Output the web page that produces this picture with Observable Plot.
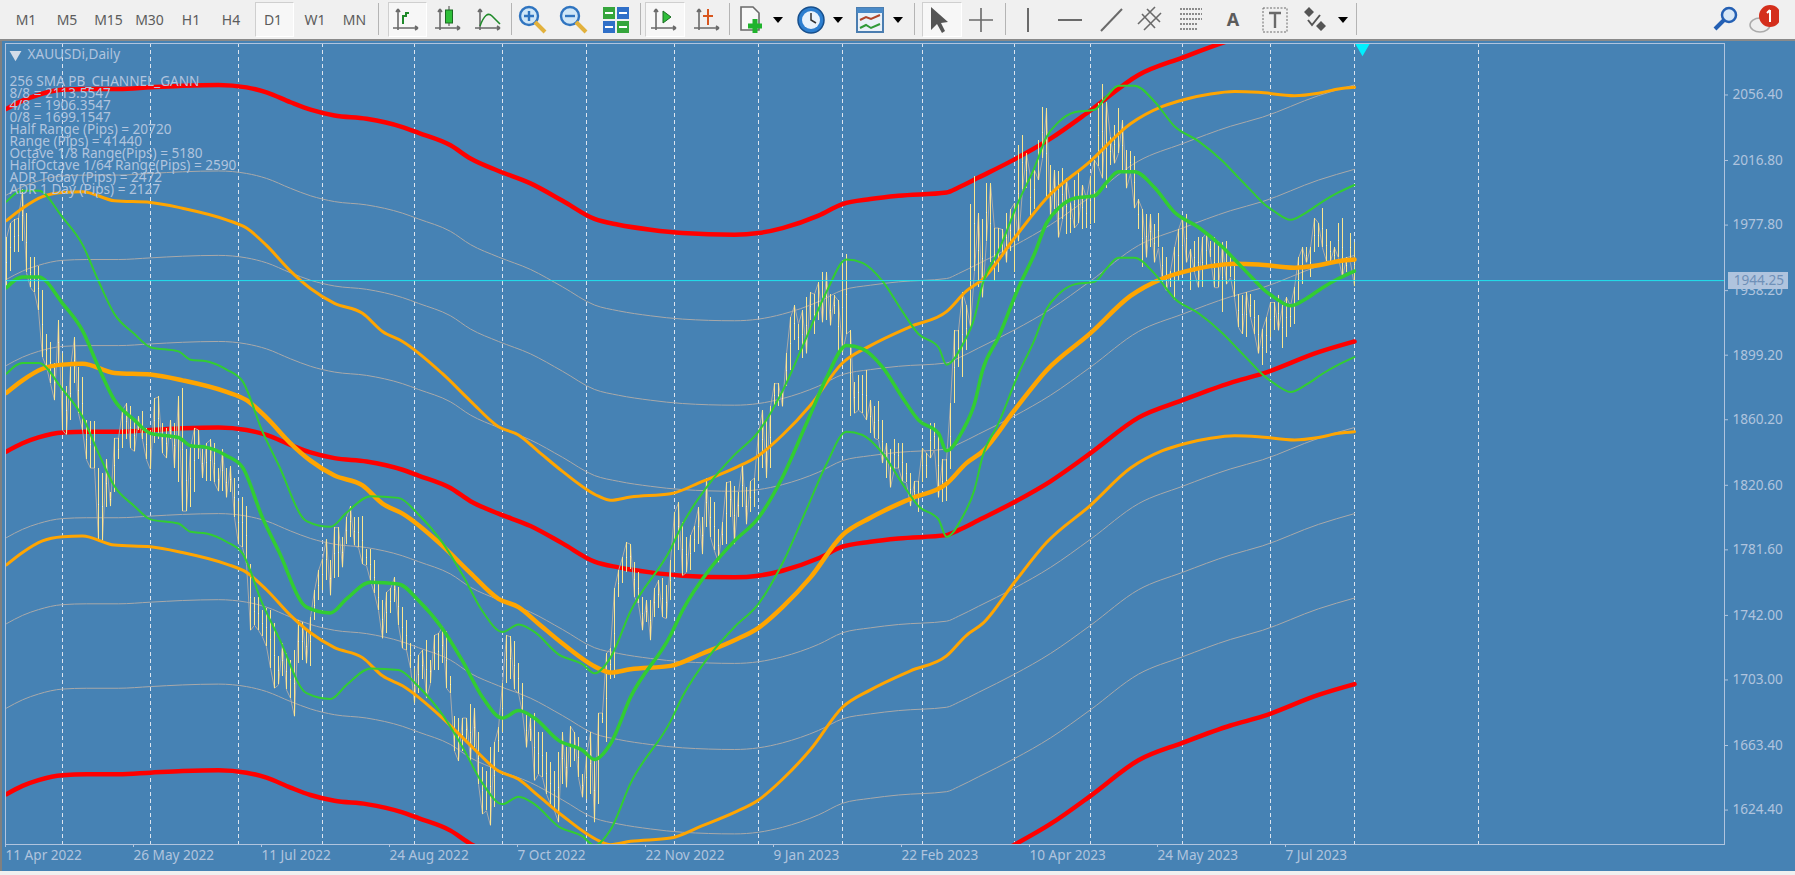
<!DOCTYPE html>
<html><head><meta charset="utf-8">
<script src="https://cdn.jsdelivr.net/npm/d3@7"></script>
<script src="https://cdn.jsdelivr.net/npm/@observablehq/plot@0.6"></script>
<style>
html,body{margin:0;padding:0;background:#f0f0f0;width:1795px;height:875px;overflow:hidden}
#bar{position:absolute;left:0;top:0;width:1795px;height:39px;background:#f0f0f0;border-bottom:2px solid #8a8a8a;font:14px "Noto Sans",sans-serif;color:#5c5c5c}
#bar span.t{position:absolute;top:10px;transform:translateX(-50%)}
#bar div.b{position:absolute;top:2px;height:33px;background:#f7f7f7;border:1px solid #cfcfcf;border-right-color:#fff;border-bottom-color:#fff}
#bar div.s{position:absolute;top:3px;height:32px;width:1px;background:#b4b4b4}
#bar svg{position:absolute;top:4px}
#chart{position:absolute;left:0;top:41px;width:1795px;height:830px;border-left:2px solid #808080;box-sizing:border-box}
#chart svg{display:block}
</style></head><body>
<div id="bar"></div><div id="chart"></div>
<script>
const periods=["M1","M5","M15","M30","H1","H4","D1","W1","MN"];
const indicatorText=["256 SMA PB_CHANNEL_GANN","8/8 = 2113.5547","4/8 = 1906.3547","0/8 = 1699.1547","Half Range (Pips) = 20720","Range (Pips) = 41440","Octave 1/8 Range(Pips) = 5180","HalfOctave 1/64 Range(Pips) = 2590","ADR Today (Pips) = 2472","ADR 1 Day (Pips) = 2127"];
const priceTicks=[2056.40,2016.80,1977.80,1938.20,1899.20,1860.20,1820.60,1781.60,1742.00,1703.00,1663.40,1624.40];
const dateBars=[0,32,64,96,128,160,192,224,256,288,320];
const dateLabels=["11 Apr 2022","26 May 2022","11 Jul 2022","24 Aug 2022","7 Oct 2022","22 Nov 2022","9 Jan 2023","22 Feb 2023","10 Apr 2023","24 May 2023","7 Jul 2023"];
const monthBars=[14,36,58,79,102,124,145,167,188,209,229,252,271,294,316,337,368];
const bid=1944.25;

const highs=[1970,1979,1981,1982,1999,1985,1958,1958,1953,1938,
1912,1907,1894,1920,1900,1880,1892,1910,1892,1886,
1860,1859,1859,1831,1828,1836,1816,1849,1849,1866,
1870,1868,1860,1862,1865,1855,1854,1873,1874,1858,
1855,1860,1858,1874,1879,1842,1843,1855,1854,1842,
1846,1848,1846,1831,1842,1831,1832,1825,1811,1813,
1808,1773,1753,1753,1745,1746,1745,1737,1717,1725,
1719,1715,1721,1739,1738,1733,1741,1757,1769,1776,
1788,1775,1795,1795,1789,1801,1808,1801,1801,1802,
1782,1782,1775,1761,1751,1756,1758,1765,1759,1747,
1739,1725,1710,1718,1721,1727,1715,1730,1731,1735,
1732,1705,1681,1680,1680,1680,1688,1686,1671,1650,
1648,1662,1665,1674,1701,1730,1729,1726,1713,1701,
1683,1680,1683,1671,1671,1659,1653,1648,1659,1671,
1662,1675,1671,1668,1646,1657,1671,1655,1683,1683,
1719,1722,1758,1769,1777,1786,1785,1774,1768,1753,
1751,1751,1758,1763,1764,1760,1775,1804,1810,1798,
1789,1790,1796,1807,1801,1825,1813,1810,1794,1798,
1822,1823,1820,1816,1834,1819,1823,1825,1852,1866,
1860,1868,1882,1882,1878,1900,1922,1929,1918,1926,
1934,1937,1936,1943,1949,1949,1936,1935,1932,1955,
1960,1914,1883,1887,1887,1890,1872,1868,1871,1860,
1846,1842,1848,1846,1846,1834,1828,1823,1823,1843,
1840,1858,1858,1852,1836,1836,1870,1914,1914,1937,
1929,1990,2007,1985,1981,2003,2003,1976,1976,1975,
1985,1987,1991,2026,2032,2021,2007,2011,2029,2049,
2048,2014,2011,2010,2012,2006,1991,2005,2010,2002,
1994,2007,2017,2051,2063,2052,2031,2038,2048,2041,
2023,2022,2019,1993,1987,1984,1984,1978,1985,1964,
1958,1950,1964,1975,1982,1984,1963,1968,1970,1970,
1973,1968,1970,1968,1967,1968,1958,1956,1936,1935,
1937,1936,1932,1923,1915,1922,1931,1931,1935,1929,
1934,1929,1940,1958,1964,1964,1964,1982,1979,1988,
1975,1968,1964,1979,1982,1958,1973,1967];
const lows=[1940,1950,1961,1961,1968,1949,1940,1937,1926,1898,
1892,1882,1872,1894,1854,1851,1860,1882,1864,1854,
1836,1831,1831,1787,1787,1807,1808,1816,1836,1843,
1848,1843,1841,1854,1848,1836,1830,1846,1848,1840,
1837,1848,1831,1822,1805,1805,1807,1816,1836,1825,
1823,1823,1822,1817,1817,1813,1816,1801,1785,1783,
1773,1733,1736,1733,1729,1723,1710,1698,1700,1705,
1697,1692,1681,1713,1715,1713,1711,1739,1751,1757,
1763,1754,1764,1765,1771,1785,1789,1784,1783,1773,
1772,1763,1755,1745,1728,1731,1743,1750,1736,1722,
1721,1710,1689,1695,1703,1692,1701,1709,1709,1713,
1698,1695,1660,1654,1660,1666,1654,1662,1640,1622,
1624,1615,1626,1659,1671,1701,1703,1697,1695,1683,
1662,1666,1642,1646,1644,1634,1628,1624,1617,1640,
1638,1650,1654,1644,1632,1631,1634,1617,1628,1677,
1665,1703,1704,1753,1761,1768,1770,1753,1749,1733,
1738,1727,1741,1746,1741,1740,1751,1769,1781,1766,
1768,1769,1780,1785,1779,1795,1789,1781,1774,1784,
1785,1801,1785,1801,1807,1797,1804,1807,1823,1831,
1825,1831,1868,1868,1868,1880,1890,1908,1902,1897,
1900,1920,1912,1920,1919,1920,1917,1924,1901,1901,
1912,1862,1864,1866,1864,1860,1852,1849,1848,1834,
1825,1819,1831,1831,1823,1822,1808,1811,1804,1822,
1825,1837,1842,1813,1810,1811,1830,1870,1892,1886,
1902,1916,1950,1940,1934,1968,1955,1944,1949,1958,
1955,1962,1949,1968,1999,2000,1982,1987,2005,2018,
1994,1982,1987,1970,1981,1972,1973,1976,1979,1975,
1976,1978,1979,2013,2006,2000,2014,2015,2021,2011,
2000,2009,1988,1975,1952,1958,1964,1955,1964,1943,
1938,1940,1932,1944,1949,1955,1938,1949,1940,1940,
1952,1958,1940,1940,1925,1942,1946,1934,1916,1912,
1910,1922,1912,1900,1893,1900,1910,1914,1914,1903,
1910,1916,1918,1932,1942,1955,1946,1961,1964,1964,
1956,1956,1955,1958,1946,1949,1955,1941];
// which end of each bar the thin grey price line passes through
const lineEnd="HHHHHLLLLLLLLHLLHHLLLLLLLHLHHHHLLHLLLHHLLHLHLLHHHLHHLLHLHLLLLLLLLLLLLHLLLHHLHHHHHLHHLHHLLLLLLLLHHHLLLLLHHLLHHHLLLLHHLHLLLLHHHHHLLLLHLLLLLLLHLHHLLHHLHHHHHHHHHLLLHLHHLLHHHLLHHHLHLLLHHHLHHLHHHHLHHHLHHHHHLHHHLHLHHLLHLLLLHLLLHLLLLLLHHHHLLLHHHHHHHLLHLLHHHHLHHLLHHHLLHLHLLHHLLHHHHLLHHLLHLLLHHLHLLLLHHHHLHLLHHLLLHLLLLLHLLLHHHHLHHHHHHLHHHLLLHLLHL";

const redBars=[0,4,8,14,20,28,36,44,53,60,65,71,76,82,90,99,103,111,116,123,131,139,147,153,161,169,182,188,194,203,209,216,223,235,238,243,252,261,271,283,294,306,314,328,337];
const redTop=[2048,2053,2056.5,2059.5,2060,2060,2061,2062,2062.5,2061,2058,2052,2047.5,2044,2042,2037,2033.5,2026,2018,2010.5,2003,1992.5,1981.5,1978,1975,1973,1972,1973,1976,1983.5,1990.5,1993.5,1995.5,1997.5,2000.5,2006.5,2017.5,2030,2047,2068.5,2079,2089.5,2095,2108,2114.5];
const redMid=[1841,1846,1849.5,1852.5,1853,1853,1854,1855,1855.5,1854,1851,1845,1840.5,1837,1835,1830,1826.5,1819,1811,1803.5,1796,1785.5,1774.5,1771,1768,1766,1765,1766,1769,1776.5,1783.5,1786.5,1788.5,1790.5,1793.5,1799.5,1810.5,1823,1840,1861.5,1872,1882.5,1888,1901,1907.5];
const redBot=[1634,1639,1642.5,1645.5,1646,1646,1647,1648,1648.5,1647,1644,1638,1633.5,1630,1628,1623,1619.5,1612,1604,1596.5,1589,1578.5,1567.5,1564,1561,1559,1558,1559,1562,1569.5,1576.5,1579.5,1581.5,1583.5,1586.5,1592.5,1603.5,1616,1633,1654.5,1665,1675.5,1681,1694,1700.5];
const greyA=[1996,2001,2004.5,2007.5,2008,2008,2009,2010,2010.5,2009,2006,2000,1995.5,1992,1990,1985,1981.5,1974,1966,1958.5,1951,1940.5,1929.5,1926,1923,1921,1920,1921,1924,1931.5,1938.5,1941.5,1943.5,1945.5,1948.5,1954.5,1965.5,1978,1995,2016.5,2027,2037.5,2043,2056,2062.5];
const greyB=[1945,1950,1953.5,1956.5,1957,1957,1958,1959,1959.5,1958,1955,1949,1944.5,1941,1939,1934,1930.5,1923,1915,1907.5,1900,1889.5,1878.5,1875,1872,1870,1869,1870,1873,1880.5,1887.5,1890.5,1892.5,1894.5,1897.5,1903.5,1914.5,1927,1944,1965.5,1976,1986.5,1992,2005,2011.5];
const greyC=[1893,1898,1901.5,1904.5,1905,1905,1906,1907,1907.5,1906,1903,1897,1892.5,1889,1887,1882,1878.5,1871,1863,1855.5,1848,1837.5,1826.5,1823,1820,1818,1817,1818,1821,1828.5,1835.5,1838.5,1840.5,1842.5,1845.5,1851.5,1862.5,1875,1892,1913.5,1924,1934.5,1940,1953,1959.5];
const greyD=[1789,1794,1797.5,1800.5,1801,1801,1802,1803,1803.5,1802,1799,1793,1788.5,1785,1783,1778,1774.5,1767,1759,1751.5,1744,1733.5,1722.5,1719,1716,1714,1713,1714,1717,1724.5,1731.5,1734.5,1736.5,1738.5,1741.5,1747.5,1758.5,1771,1788,1809.5,1820,1830.5,1836,1849,1855.5];
const greyE=[1737,1742,1745.5,1748.5,1749,1749,1750,1751,1751.5,1750,1747,1741,1736.5,1733,1731,1726,1722.5,1715,1707,1699.5,1692,1681.5,1670.5,1667,1664,1662,1661,1662,1665,1672.5,1679.5,1682.5,1684.5,1686.5,1689.5,1695.5,1706.5,1719,1736,1757.5,1768,1778.5,1784,1797,1803.5];
const greyF=[1686,1691,1694.5,1697.5,1698,1698,1699,1700,1700.5,1699,1696,1690,1685.5,1682,1680,1675,1671.5,1664,1656,1648.5,1641,1630.5,1619.5,1616,1613,1611,1610,1611,1614,1621.5,1628.5,1631.5,1633.5,1635.5,1638.5,1644.5,1655.5,1668,1685,1706.5,1717,1727.5,1733,1746,1752.5];

const orangeBars=[0,4,9,14,19,27,36,44,55,60,65,71,76,82,89,94,99,109,116,123,128,133,139,148,151,156,166,174,182,188,194,201,209,216,226,235,240,244,252,260,271,281,289,295,301,307,313,322,328,333,337];
const orangeTop=[1980.5,1988,1995,1997.5,1998,1992.5,1991.5,1988,1981,1976,1965.5,1950,1939.5,1930.5,1924.5,1913.5,1907.5,1888,1871.5,1856,1851,1841,1829,1814,1811.5,1813.5,1815.5,1823,1831,1838.5,1851,1869,1894.5,1905,1916.5,1925.5,1938,1945,1970,1994,2016.5,2039,2049.5,2054,2057,2058.5,2058,2056,2057.5,2060,2061];
const orangeMid=[1876.5,1884,1891,1893.5,1894,1888.5,1887.5,1884,1877,1872,1861.5,1846,1835.5,1826.5,1820.5,1809.5,1803.5,1784,1767.5,1752,1747,1737,1725,1710,1707.5,1709.5,1711.5,1719,1727,1734.5,1747,1765,1790.5,1801,1812.5,1821.5,1834,1841,1866,1890,1912.5,1935,1945.5,1950,1953,1954.5,1954,1952,1953.5,1956,1957];
const orangeBot=[1772.5,1780,1787,1789.5,1790,1784.5,1783.5,1780,1773,1768,1757.5,1742,1731.5,1722.5,1716.5,1705.5,1699.5,1680,1663.5,1648,1643,1633,1621,1606,1603.5,1605.5,1607.5,1615,1623,1630.5,1643,1661,1686.5,1697,1708.5,1717.5,1730,1737,1762,1786,1808.5,1831,1841.5,1846,1849,1850.5,1850,1848,1849.5,1852,1853];

const greenBars=[0,4,8,14,19,23,27,32,36,43,46,50,55,59,64,68,75,81,85,91,98,103,109,114,119,124,128,132,138,144,147,151,156,166,169,176,182,188,194,200,205,210,214,219,224,228,233,235,239,242,244,248,253,257,260,263,267,272,275,278,282,287,292,298,304,308,312,314,317,321,325,329,333,337];
const greenTop=[1992,1998.5,1998.5,1982.5,1966,1944,1924,1912,1904,1901.5,1896.5,1895.5,1890.5,1883.5,1853,1833,1799,1795.5,1804,1814,1813,1803,1786,1766.5,1744.5,1732,1736.5,1732,1718.5,1712.5,1707,1716.5,1744.5,1782,1797,1822.5,1839,1853,1877.5,1910,1937.5,1957,1955,1944,1925.5,1912,1904,1893.5,1905.5,1922,1942,1962,1992,2012.5,2031,2040,2046,2047.5,2055.5,2062,2062,2052.5,2037.5,2028.5,2016.5,2006.5,1996.5,1991.5,1986,1981,1985.5,1992,1997.5,2002];
const greenMid=[1940,1946.5,1946.5,1930.5,1914,1892,1872,1860,1852,1849.5,1844.5,1843.5,1838.5,1831.5,1801,1781,1747,1743.5,1752,1762,1761,1751,1734,1714.5,1692.5,1680,1684.5,1680,1666.5,1660.5,1655,1664.5,1692.5,1730,1745,1770.5,1787,1801,1825.5,1858,1885.5,1905,1903,1892,1873.5,1860,1852,1841.5,1853.5,1870,1890,1910,1940,1960.5,1979,1988,1994,1995.5,2003.5,2010,2010,2000.5,1985.5,1976.5,1964.5,1954.5,1944.5,1939.5,1934,1929,1933.5,1940,1945.5,1950];
const greenBot=[1888,1894.5,1894.5,1878.5,1862,1840,1820,1808,1800,1797.5,1792.5,1791.5,1786.5,1779.5,1749,1729,1695,1691.5,1700,1710,1709,1699,1682,1662.5,1640.5,1628,1632.5,1628,1614.5,1608.5,1603,1612.5,1640.5,1678,1693,1718.5,1735,1749,1773.5,1806,1833.5,1853,1851,1840,1821.5,1808,1800,1789.5,1801.5,1818,1838,1858,1888,1908.5,1927,1936,1942,1943.5,1951.5,1958,1958,1948.5,1933.5,1924.5,1912.5,1902.5,1892.5,1887.5,1882,1877,1881.5,1888,1893.5,1898];

const AXIS="#b0c4de", BLUE="#4682b4", RED="#ff0000", ORANGE="#ffa500", GREEN="#32cd32", GREY="#a9a9a9", BAR="#fbe78f";
const barIdx=highs.map((_,i)=>i);
const curve=(bars,vals,stroke,strokeWidth)=>Plot.line(bars,{x:d=>d,y:(_,i)=>vals[i],stroke,strokeWidth,clip:true,curve:"monotone-x",strokeLinejoin:"round"});

const chart=Plot.plot({
  width:1793,height:830,marginLeft:3,marginRight:71,marginTop:2,marginBottom:27,
  x:{type:"linear",domain:[-0.25,429.5],axis:null},
  y:{type:"linear",domain:[1603.6,2087.5],axis:null},
  style:{background:BLUE,color:AXIS,fontFamily:"'Noto Sans',sans-serif",fontSize:"13.6px"},
  marks:[
    Plot.ruleX(monthBars,{x:d=>d,stroke:"#dbe4ef",strokeWidth:1,strokeDasharray:"4,3"}),
    curve(redBars,redTop,RED,4.5),curve(redBars,redMid,RED,4.5),curve(redBars,redBot,RED,4.5),
    curve(redBars,greyA,GREY,1),curve(redBars,greyB,GREY,1),curve(redBars,greyC,GREY,1),
    curve(redBars,greyD,GREY,1),curve(redBars,greyE,GREY,1),curve(redBars,greyF,GREY,1),
    Plot.line(barIdx,{x:d=>d,y:i=>lineEnd[i]==="H"?highs[i]:lows[i],stroke:GREY,strokeWidth:1}),
    Plot.ruleX(barIdx,{x:d=>d,y1:i=>lows[i],y2:i=>highs[i],stroke:BAR,strokeWidth:1,shapeRendering:"crispEdges"}),
    Plot.ruleY(barIdx,{y:i=>(highs[i]+lows[i])/2,x1:i=>i,x2:i=>i+0.3,stroke:"#fff6c8",strokeWidth:1,shapeRendering:"crispEdges"}),
    curve(orangeBars,orangeTop,ORANGE,3),curve(orangeBars,orangeMid,ORANGE,4.5),curve(orangeBars,orangeBot,ORANGE,3),
    curve(greenBars,greenTop,GREEN,2),curve(greenBars,greenMid,GREEN,3.5),curve(greenBars,greenBot,GREEN,2),
    Plot.ruleY([bid],{y:d=>d,stroke:"#20e4ee",strokeWidth:1,clip:true}),
    Plot.dot([339],{x:d=>d,frameAnchor:"top",dy:4,r:5.6,symbol:"triangle",rotate:180,fill:"#00f0ff",stroke:"none"}),
    Plot.frame({stroke:AXIS,strokeWidth:1}),
    Plot.axisY(priceTicks,{anchor:"right",tickSize:3,tickPadding:5,tickFormat:d=>d.toFixed(2),label:null,stroke:AXIS,fill:AXIS}),
    Plot.axisX(dateBars,{anchor:"bottom",tickSize:3,tickPadding:3,textAnchor:"start",dx:-1,tickFormat:d=>dateLabels[dateBars.indexOf(d)],label:null,stroke:AXIS,fill:AXIS}),
    Plot.ruleY([bid],{y:d=>d,x1:430.5,x2:445.5,stroke:"#b0c4de",strokeWidth:17}),
    Plot.text([bid],{y:d=>d,x:431.8,text:d=>d.toFixed(2),textAnchor:"start",fill:"#6f90b8"}),
    Plot.dot(["▼"],{frameAnchor:"top-left",dx:10,dy:11,r:4.4,symbol:"triangle",rotate:180,fill:"#d3dce8",stroke:"none"}),
    Plot.text(["XAUUSDi,Daily"],{frameAnchor:"top-left",dx:22,dy:6,lineAnchor:"top",textAnchor:"start",fill:AXIS}),
    Plot.text([indicatorText.join("\n")],{frameAnchor:"top-left",dx:4,dy:34,lineAnchor:"top",textAnchor:"start",lineHeight:0.88,fill:AXIS})
  ]
});
document.getElementById("chart").appendChild(chart);

// toolbar
const G="#6a6a6a";
const axes=`<path d="M8 5V26M3 24H28M8 5l-2 3M8 5l2 3M28 24l-3-2M28 24l-3 2" stroke="${G}" fill="none" stroke-width="1.6"/>`;
const lens=(c,s)=>`<circle cx="12" cy="12" r="9" fill="#cfe6f7" stroke="#2f74c0" stroke-width="2.4"/><path d="M18 18L28 28" stroke="#e2b13c" stroke-width="4"/><path d="M7 12H17${s}" stroke="${c}" stroke-width="2.4"/>`;
const icons=[
 [406,axes+`<path d="M13 20V12H16V9H19" stroke="#1f8a2a" fill="none" stroke-width="2"/>`],
 [448,axes+`<path d="M17 2V22" stroke="#444"/><rect x="13.5" y="6" width="7" height="13" fill="#2fbf3a" stroke="#1a6a22"/>`],
 [488,axes+`<path d="M8 22Q14 6 20 12T28 20" stroke="#1f8a2a" fill="none" stroke-width="1.6"/>`],
 [533,lens("#2f74c0","M12 7V17")],
 [574,lens("#2f74c0","")],
 [616,`<rect x="3" y="3" width="12" height="12" fill="#35a53c"/><rect x="17" y="3" width="12" height="12" fill="#2f6fc8"/><rect x="3" y="17" width="12" height="12" fill="#2f6fc8"/><rect x="17" y="17" width="12" height="12" fill="#35a53c"/><path d="M5 9H13M19 9H27M5 23H13M19 23H27" stroke="#fff" stroke-width="2"/>`],
 [664,axes+`<path d="M15 7V19L23 13Z" fill="#2fbf3a" stroke="#1a6a22"/>`],
 [707,axes+`<path d="M12 12H22M17 5V21" stroke="#d8561e" stroke-width="2"/>`],
 [751,`<path d="M6 3H18L24 9V26H6Z" fill="#f8f8f8" stroke="${G}" stroke-width="1.6"/><path d="M20 15V29M13 22H27" stroke="#1fb32c" stroke-width="5"/>`],
 [811,`<circle cx="16" cy="16" r="13" fill="#2d7fd0" stroke="#174f8c" stroke-width="1.5"/><circle cx="16" cy="16" r="9" fill="#e8f2fb"/><path d="M16 9V16L21 19" stroke="#333" fill="none" stroke-width="1.5"/>`],
 [870,`<rect x="3" y="4" width="26" height="24" fill="#eaf1f8" stroke="#4a7db0" stroke-width="2"/><rect x="3" y="4" width="26" height="5" fill="#4a8ac8"/><path d="M6 16L12 13L17 15L26 11" stroke="#b0452a" fill="none" stroke-width="2"/><path d="M6 24L12 21L17 24L26 20" stroke="#2f9a38" fill="none" stroke-width="2"/>`],
 [939,`<path d="M8 3L8 26L14 20L19 29L22 27L18 19L25 18Z" fill="#555"/>`],
 [981,`<path d="M16 4V28M4 16H28" stroke="${G}" stroke-width="1.6"/>`],
 [1028,`<path d="M16 4V28" stroke="${G}" stroke-width="2"/>`],
 [1070,`<path d="M4 16H28" stroke="${G}" stroke-width="2"/>`],
 [1111,`<path d="M6 27L27 5" stroke="${G}" stroke-width="2"/>`],
 [1151,`<path d="M3 20L20 3M9 26L26 9M7 10L20 24M12 5L25 18" stroke="${G}" stroke-width="1.6"/>`],
 [1193,`<path d="M3 5H25M3 10H25M3 15H25M3 20H20M3 25H20" stroke="${G}" stroke-width="1.4" stroke-dasharray="2,1"/>`],
 [1275,`<rect x="4" y="4" width="24" height="24" fill="none" stroke="${G}" stroke-dasharray="2,1.5"/><path d="M10 9H22M16 9V24" stroke="${G}" stroke-width="2.4"/>`],
 [1316,`<path d="M4 8L9 3L14 8L9 13Z M16 22L21 17L26 22L21 27Z" fill="#555"/><path d="M8 16L12 21L20 11" stroke="#555" fill="none" stroke-width="2"/>`],
 [1726,`<circle cx="19" cy="11" r="7" fill="#d8e8f7" stroke="#2460b4" stroke-width="2.5"/><path d="M14 16L5 25" stroke="#2460b4" stroke-width="4"/>`],
 [1763,`<ellipse cx="13" cy="21" rx="10" ry="7" fill="#eee" stroke="#aaa" stroke-width="1.5"/><circle cx="23" cy="12" r="11" fill="#d42f1c"/><path d="M23 6V18M23 6L20 9" stroke="#fff" stroke-width="2" fill="none"/>`]
];
const arrows=[778,838,898,1343];
const seps=[378,511,640,729,914,1005,1356];
const btns=[[255,37],[388,37],[645,38],[922,38]];
let h="";
for(const [x,w] of btns) h+=`<div class="b" style="left:${x}px;width:${w}px"></div>`;
for(const x of seps) h+=`<div class="s" style="left:${x}px"></div>`;
const periodX=[26,67,108.5,149.5,191,231,273,315,354.5];
periods.forEach((p,i)=>h+=`<span class="t" style="left:${periodX[i]}px">${p}</span>`);
h+=`<span class="t" style="left:1233px;font-weight:700;font-size:18px;top:7px">A</span>`;
for(const [x,inner] of icons) h+=`<svg width="32" height="32" viewBox="0 0 32 32" style="left:${x-16}px">${inner}</svg>`;
for(const x of arrows) h+=`<svg width="12" height="8" viewBox="0 0 12 8" style="left:${x-6}px;top:16px"><path d="M1 1H11L6 7Z" fill="#000"/></svg>`;
document.getElementById("bar").innerHTML=h;
</script>
</body></html>
